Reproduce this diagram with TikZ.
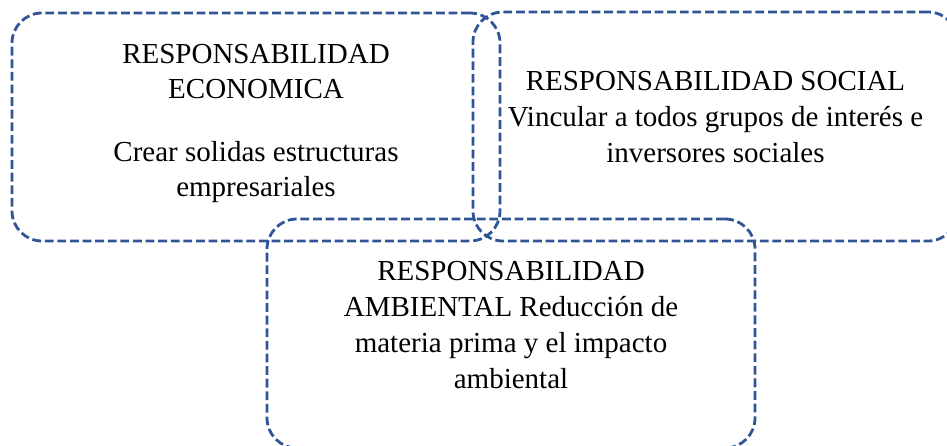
\documentclass[tikz,border=0pt]{standalone}
\usepackage{fontspec}
\setmainfont{Liberation Serif}
\usepackage{tikz}
\usetikzlibrary{positioning}
\definecolor{respblue}{RGB}{47,85,151}
\tikzset{
    resp/.style={rectangle, draw=respblue, line width=1.4pt, dash pattern=on 4.4pt off 1.9pt, rounded corners=15pt, inner sep=0pt},
    rtext/.style={align=center, inner sep=0pt, anchor=north, font=\fontsize{14.5pt}{18pt}\selectfont},
}

\begin{document}
\begin{tikzpicture}[x=0.5pt, y=-0.5pt]
        \useasboundingbox (0,0) rectangle (947,445);
        \clip (0,0) rectangle (947,445);
        \node [resp, minimum width=244pt, minimum height=114pt] (eco) at (256,127) {};
        \node [resp, minimum width=242.5pt, minimum height=114.5pt] (soc) at (715.5,126.5) {};
        \node [resp, minimum width=244pt, minimum height=114.5pt] (amb) at (511,333.5) {};
        \node [rtext, font=\fontsize{14.5pt}{17.5pt}\selectfont] (ecotxt) [below=16pt of eco.north]
            {RESPONSABILIDAD\\ECONOMICA\\[14pt]Crear solidas estructuras\\empresariales};
        \node [rtext] (soctxt) [below=30pt of soc.north]
            {RESPONSABILIDAD SOCIAL\\Vincular a todos grupos de interés e\\inversores sociales};
        \node [rtext] (ambtxt) [below=21.5pt of amb.north]
            {RESPONSABILIDAD\\AMBIENTAL Reducción de\\materia prima y el impacto\\ambiental};
    \end{tikzpicture}
\end{document}
